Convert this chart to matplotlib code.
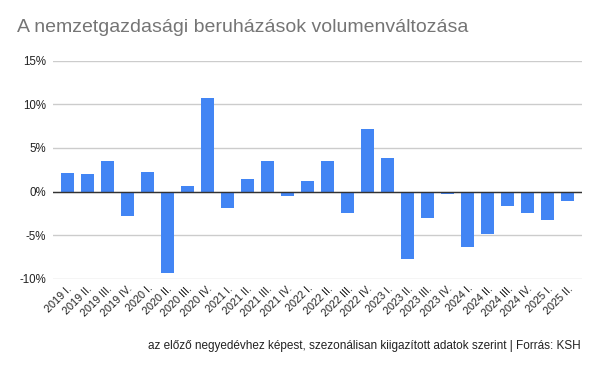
import matplotlib.pyplot as plt
from matplotlib.ticker import FuncFormatter

plt.rcParams['font.family'] = ['Liberation Sans', 'DejaVu Sans']

# negyedévek
quarters = ['2019 I.', '2019 II.', '2019 III.', '2019 IV.',
            '2020 I.', '2020 II.', '2020 III.', '2020 IV.',
            '2021 I.', '2021 II.', '2021 III.', '2021 IV.',
            '2022 I.', '2022 II.', '2022 III.', '2022 IV.',
            '2023 I.', '2023 II.', '2023 III.', '2023 IV.',
            '2024 I.', '2024 II.', '2024 III.', '2024 IV.',
            '2025 I.', '2025 II.']
# volumenváltozás, %
change = [2.1, 2.0, 3.5, -2.8,
          2.2, -9.4, 0.6, 10.7,
          -1.9, 1.4, 3.5, -0.5,
          1.2, 3.5, -2.5, 7.2,
          3.9, -7.7, -3.0, -0.3,
          -6.4, -4.9, -1.7, -2.5,
          -3.3, -1.1]
yticks = [-10, -5, 0, 5, 10, 15]

fig = plt.figure(figsize=(6, 3.71), dpi=100)
ax = fig.add_axes([0.088, 0.249, 0.882, 0.587])

x = range(len(quarters))
ax.bar(x, change, width=0.65, color='#4285F4', zorder=3)
ax.axhline(0, color='#333333', lw=1, zorder=4)

ax.set_ylim(-10, 15)
ax.set_xlim(-0.72, len(quarters) - 0.28)
ax.set_yticks(yticks)
ax.yaxis.set_major_formatter(FuncFormatter(lambda v, p: '%d%%' % v))
ax.grid(axis='y', color='#cccccc', lw=1, zorder=0)
for s in ax.spines.values():
    s.set_visible(False)
ax.tick_params(axis='both', length=0, labelsize=8.3, colors='#222222')
ax.tick_params(axis='y', pad=5)
ax.set_xticks(list(x))
ax.set_xticklabels(quarters, rotation=45, ha='right', rotation_mode='anchor', fontsize=7.8)

fig.text(0.028, 0.915, 'A nemzetgazdasági beruházások volumenváltozása',
         fontsize=14, color='#757575')
fig.text(0.967, 0.06, 'az előző negyedévhez képest, szezonálisan kiigazított adatok szerint | Forrás: KSH',
         fontsize=8.5, color='#222222', ha='right')

fig.savefig('out.png', dpi=100)
